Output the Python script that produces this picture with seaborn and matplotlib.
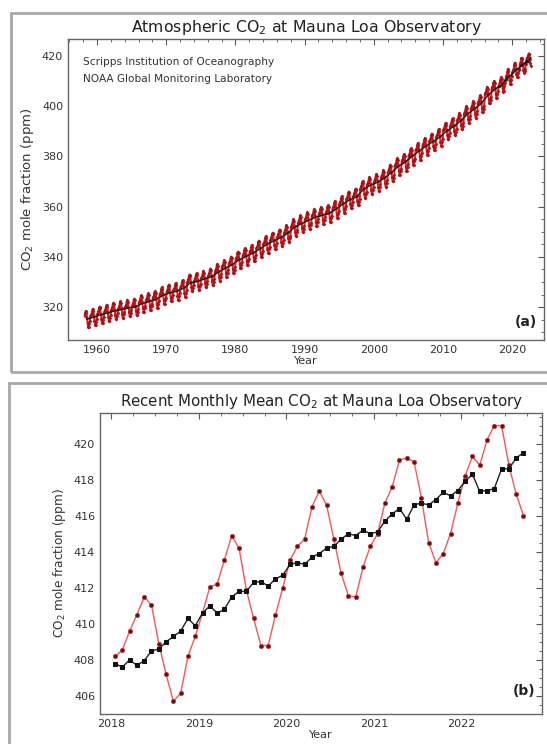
import numpy as np
import pandas as pd
import matplotlib
matplotlib.use("Agg")
import matplotlib.pyplot as plt
import seaborn as sns
from matplotlib.ticker import MultipleLocator
from matplotlib.patches import Rectangle

# ---------------- data ----------------
# Panel (a): annual mean CO2 (ppm), 1958-2017
YEARS = list(range(1958, 2018))
ANNUAL_MEAN = [315.2, 315.98, 316.91, 317.64, 318.45, 318.99, 319.62, 320.04, 321.37, 322.18,
               323.05, 324.62, 325.68, 326.32, 327.46, 329.68, 330.19, 331.13, 332.03, 333.84,
               335.41, 336.84, 338.76, 340.12, 341.48, 343.15, 344.87, 346.35, 347.61, 349.31,
               351.69, 353.20, 354.45, 355.70, 356.54, 357.21, 358.96, 360.97, 362.74, 363.88,
               366.84, 368.54, 369.71, 371.32, 373.45, 375.98, 377.70, 379.98, 382.09, 384.02,
               385.83, 387.64, 390.10, 391.85, 394.06, 396.74, 398.81, 401.01, 404.41, 406.76]
# mean seasonal departure for Jan..Dec (ppm)
SEASONAL_CYCLE = [0.3, 0.8, 1.4, 2.6, 3.3, 2.6, 0.5, -1.7, -3.3, -3.3, -1.9, -0.8]

# Panel (b): monthly means Jan 2018 - Sep 2022
RECENT_MONTHLY = [408.2, 408.55, 409.6, 410.5, 411.5, 411.05, 408.9, 407.2, 405.7, 406.15, 408.2, 409.3,
                  410.6, 412.05, 412.2, 413.55, 414.9, 414.2, 411.9, 410.3, 408.8, 408.8, 410.5, 412.0,
                  413.55, 414.3, 414.7, 416.5, 417.35, 416.6, 414.7, 412.8, 411.55, 411.5, 413.15, 414.3,
                  415.0, 416.7, 417.6, 419.1, 419.2, 419.0, 417.0, 414.5, 413.4, 413.9, 415.0, 416.7,
                  418.2, 419.3, 418.8, 420.2, 421.0, 421.0, 418.8, 417.2, 416.0]
RECENT_TREND = [407.8, 407.6, 408.0, 407.7, 407.96, 408.5, 408.6, 409.0, 409.3, 409.6, 410.3, 409.9,
                410.6, 411.0, 410.6, 410.8, 411.5, 411.8, 411.8, 412.3, 412.35, 412.1, 412.5, 412.7,
                413.3, 413.4, 413.3, 413.7, 413.9, 414.2, 414.3, 414.7, 415.0, 414.9, 415.2, 415.0,
                415.1, 415.7, 416.1, 416.4, 415.8, 416.6, 416.7, 416.6, 416.9, 417.3, 417.1, 417.4,
                417.9, 418.3, 417.35, 417.4, 417.5, 418.6, 418.6, 419.2, 419.5]
RECENT_START_YEAR = 2018

TITLE_A = "Atmospheric CO$_2$ at Mauna Loa Observatory"
TITLE_B = "Recent Monthly Mean CO$_2$ at Mauna Loa Observatory"
YLABEL = "CO$_2$ mole fraction (ppm)"
XLABEL = "Year"
CREDIT = ["Scripps Institution of Oceanography", "NOAA Global Monitoring Laboratory"]

# ---------------- tables ----------------
rows = []
for y, mean in zip(YEARS, ANNUAL_MEAN):
    for m in range(12):
        if y == 1958 and m < 2:
            continue
        rows.append((y + (m + 0.5) / 12, mean + SEASONAL_CYCLE[m]))
recent_dates = [RECENT_START_YEAR + (i + 0.5) / 12 for i in range(len(RECENT_MONTHLY))]
for d, v in zip(recent_dates, RECENT_MONTHLY):
    rows.append((d, v))
df_a_month = pd.DataFrame(rows, columns=["date", "co2"])

trend_rows = [(y + 0.5, v) for y, v in zip(YEARS, ANNUAL_MEAN)] + list(zip(recent_dates, RECENT_TREND))
df_a_trend = pd.DataFrame(trend_rows, columns=["date", "co2"])

df_b = pd.DataFrame({"date": recent_dates, "monthly": RECENT_MONTHLY, "trend": RECENT_TREND})

# ---------------- figure ----------------
sns.set_theme(style="white")
plt.rcParams["font.family"] = ["DejaVu Sans"]
W, H = 547, 744
fig = plt.figure(figsize=(W / 100, H / 100), dpi=100)
fig.patch.set_facecolor("white")

def px_axes(l, t, r, b):
    return fig.add_axes([l / W, 1 - b / H, (r - l) / W, (b - t) / H])

ax1 = px_axes(68, 39, 544, 340)
ax2 = px_axes(100, 413, 542, 714)

# outer panel frames
for (l, t, r, b) in [(11, 13, 552, 372), (9, 383, 552, 752)]:
    fig.patches.append(Rectangle((l / W, 1 - b / H), (r - l) / W, (b - t) / H,
                                 transform=fig.transFigure, fill=False,
                                 edgecolor="#a8a8a8", lw=2.0, zorder=0))

# panel (a)
sns.lineplot(data=df_a_month, x="date", y="co2", ax=ax1, color="#e8202a", lw=1.5,
             marker="D", markersize=1.6, markerfacecolor="#b01515", markeredgecolor="#8a1515",
             markeredgewidth=0.3, estimator=None, sort=False, zorder=2)
sns.lineplot(data=df_a_trend, x="date", y="co2", ax=ax1, color="#1a1a1a", lw=1.0,
             estimator=None, sort=False, zorder=3)
ax1.set_xlim(1955.8, 2024.6)
ax1.set_ylim(306.9, 426.8)
ax1.xaxis.set_major_locator(MultipleLocator(10))
ax1.xaxis.set_minor_locator(MultipleLocator(2))
ax1.yaxis.set_major_locator(MultipleLocator(20))
ax1.yaxis.set_minor_locator(MultipleLocator(5))
ax1.set_title(TITLE_A, fontsize=11.3, color="#222222", pad=5)
ax1.text(0.032, 0.922, CREDIT[0], transform=ax1.transAxes, fontsize=7.6, color="#333333", va="center")
ax1.text(0.032, 0.868, CREDIT[1], transform=ax1.transAxes, fontsize=7.6, color="#333333", va="center")
ax1.text(0.985, 0.06, "(a)", transform=ax1.transAxes, fontsize=10, fontweight="bold",
         color="#222222", ha="right", va="center")
ax1.set_ylabel(YLABEL, fontsize=9.5, color="#333333", labelpad=4)

# panel (b)
sns.lineplot(data=df_b, x="date", y="monthly", ax=ax2, color="#ee5a5a", lw=1.0,
             marker="o", markersize=3.0, markerfacecolor="#4a1a1a", markeredgecolor="#d03030",
             markeredgewidth=0.6, estimator=None, sort=False, zorder=2)
sns.lineplot(data=df_b, x="date", y="trend", ax=ax2, color="#222222", lw=1.0,
             marker="s", markersize=2.8, markerfacecolor="#111111", markeredgecolor="#111111",
             estimator=None, sort=False, zorder=3)
ax2.set_xlim(2017.87, 2022.92)
ax2.set_ylim(405.0, 421.7)
ax2.xaxis.set_major_locator(MultipleLocator(1))
ax2.xaxis.set_minor_locator(MultipleLocator(0.25))
ax2.yaxis.set_major_locator(MultipleLocator(2))
ax2.yaxis.set_minor_locator(MultipleLocator(0.5))
ax2.set_title(TITLE_B, fontsize=10.8, color="#222222", pad=5)
ax2.text(0.985, 0.075, "(b)", transform=ax2.transAxes, fontsize=10, fontweight="bold",
         color="#222222", ha="right", va="center")
ax2.set_ylabel(YLABEL, fontsize=8.7, color="#333333", labelpad=4)

for ax in (ax1, ax2):
    ax.set_xlabel(XLABEL, fontsize=8, color="#333333", labelpad=1)
    ax.tick_params(which="both", direction="in", top=True, right=True, colors="#555555",
                   labelcolor="#333333", labelsize=8)
    ax.tick_params(which="major", length=4, width=0.8)
    ax.tick_params(which="minor", length=2, width=0.6)
    for s in ax.spines.values():
        s.set_color("#666666")
        s.set_linewidth(1.0)
    ax.grid(False)
    if ax.get_legend():
        ax.get_legend().remove()

fig.savefig("out.png", dpi=100, facecolor="white")
